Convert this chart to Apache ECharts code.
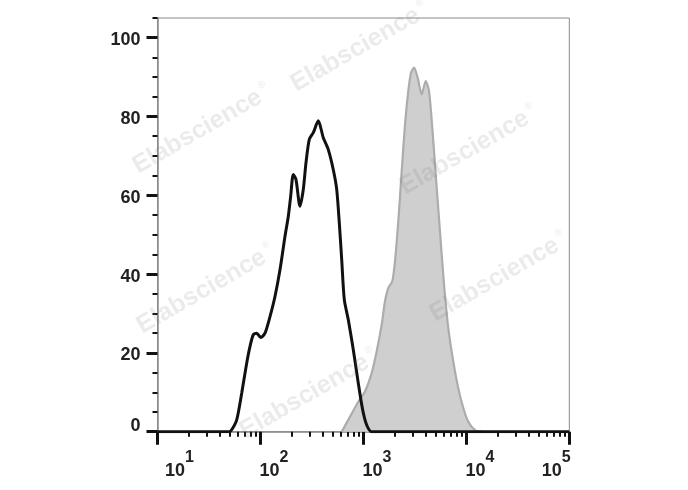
<!DOCTYPE html>
<html>
<head>
<meta charset="utf-8">
<script src="https://cdn.jsdelivr.net/npm/echarts@6/dist/echarts.min.js"></script>
<style>
html,body{margin:0;padding:0;background:#fff;}
#chart{width:688px;height:490px;}
</style>
</head>
<body>
<div id="chart"></div>
<script>
// Unstained / isotype control (black open histogram): [intensity, % of max]
var controlX = [10, 49.5, 52.6, 58.8, 65.8, 73.5, 79.1, 85.2, 91.9, 100.6, 110.7, 123.8, 138.4, 154.8, 173.2, 186.5, 196.7, 208.4, 221.4, 242.1, 260.8, 277, 298.2, 326.1, 364.7, 407.8, 456, 510, 550.5, 583.3, 615.5, 652.4, 713.4, 797.8, 892.2, 984.5, 1076.6, 1203.6, 100000];
var controlY = [0, 0, 0.5, 3, 9.8, 17.4, 21.6, 24.6, 25, 23.9, 25, 29.2, 34.3, 41.1, 49.6, 54.7, 59.8, 65.3, 64, 57.2, 61.5, 68.3, 74.2, 75.9, 78.9, 74.6, 71.6, 66.5, 61.5, 53, 43.7, 33.5, 28.4, 20.8, 12.3, 5.5, 1.7, 0, 0];
// Stained sample (grey filled histogram)
var stainedX = [615.5, 740.7, 892.2, 1036.4, 1203.6, 1346.4, 1505.9, 1621, 1745.6, 1909, 2027.7, 2182.7, 2355, 2536.4, 2730.5, 2900.6, 3100.7, 3369, 3683.6, 4028.5, 4337.4, 4669, 5038.5, 5546, 6106, 6677, 7469, 8353, 9342, 10447, 12134, 14090];
var stainedY = [0, 3.8, 7.6, 10.2, 14.9, 20.4, 27.2, 33.1, 36.5, 38.2, 43.3, 53.4, 66.1, 78, 86.5, 91.1, 92.4, 89.8, 85.6, 89, 86.5, 77.1, 65.3, 50.8, 36.5, 26.3, 17.8, 11, 6, 2.5, 0.4, 0];
// Axis ticks
var xMajorTicks = [10, 100, 1000, 10000, 100000];
var xExponents = ['1', '2', '3', '4', '5'];
var yMajorTicks = [0, 20, 40, 60, 80, 100];
var yLabels = ['0', '20', '40', '60', '80', '100'];
var watermark = 'Elabscience';

function pairs(xs, ys) { return xs.map(function (x, i) { return [x, ys[i]]; }); }
var xMinor = [];
for (var d = 10; d < 100000; d *= 10) { for (var k = 2; k <= 9; k++) xMinor.push(d * k); }
var yMinor = [];
for (var v = 5; v <= 105; v += 5) { if (v % 20 !== 0) yMinor.push(v); }

var chart = echarts.init(document.getElementById('chart'), null, {renderer: 'canvas'});

var wmColor = 'rgba(110,110,110,0.14)';
var wmPos = [[360, 47], [202, 129], [469, 150], [206, 289], [499, 277], [309, 394]];
var graphics = wmPos.map(function (p) {
  return {
    type: 'text', x: p[0], y: p[1], rotation: Math.PI / 6, z: 100, silent: true,
    style: {
      text: '{a|' + watermark + '}{r|®}',
      align: 'center', verticalAlign: 'middle',
      rich: {
        a: {fontFamily: 'Liberation Sans', fontWeight: 'bold', fontSize: 25, fill: wmColor},
        r: {fontFamily: 'Liberation Sans', fontSize: 10, verticalAlign: 'top', fill: wmColor, padding: [0, 0, 16, 3]}
      }
    }
  };
});

var labelFont = {fontFamily: 'Liberation Sans', fontWeight: 'bold', color: '#222'};

var option = {
  animation: false,
  backgroundColor: '#fff',
  grid: {left: 157.5, right: 118.7, top: 18, bottom: 58.3, show: true, borderColor: '#8a8a8a', borderWidth: 1, containLabel: false},
  xAxis: [{
    type: 'log', logBase: 10, min: 10, max: 100000, position: 'bottom',
    axisLine: {show: true, onZero: false, lineStyle: {color: '#8a8a8a', width: 1.5}},
    axisTick: {show: true, length: 13, lineStyle: {color: '#111', width: 3}, customValues: xMajorTicks},
    axisLabel: {
      show: true, margin: 18, customValues: xMajorTicks,
      formatter: function (val) {
        var i = xMajorTicks.indexOf(Math.round(val));
        if (i < 0) return '';
        var pre = i === 0 ? '{s44| }' : (i === 4 ? '' : '{s27| }');
        var post = i === 4 ? '{s26| }' : '';
        return pre + '{b|10}{e|' + xExponents[i] + '}' + post;
      },
      rich: {
        b: Object.assign({fontSize: 18, lineHeight: 30, verticalAlign: 'bottom'}, labelFont),
        e: Object.assign({fontSize: 16, lineHeight: 16, verticalAlign: 'top'}, labelFont),
        s44: {width: 44, fontSize: 10}, s27: {width: 27, fontSize: 10}, s26: {width: 26, fontSize: 10}
      }
    },
    splitLine: {show: false}
  }, {
    type: 'log', logBase: 10, min: 10, max: 100000, position: 'bottom',
    axisLine: {show: false},
    axisTick: {show: true, length: 5, lineStyle: {color: '#111', width: 2}, customValues: xMinor},
    axisLabel: {show: false},
    splitLine: {show: false}
  }],
  yAxis: [{
    type: 'value', min: 0, max: 105, interval: 20, position: 'left',
    axisLine: {show: true, onZero: false, lineStyle: {color: '#8a8a8a', width: 1.5}},
    axisTick: {show: true, length: 11, lineStyle: {color: '#111', width: 3}, customValues: yMajorTicks},
    axisLabel: {
      show: true, margin: 17, customValues: yMajorTicks,
      formatter: function (val) {
        var i = yMajorTicks.indexOf(Math.round(val));
        if (i < 0) return '';
        return (i === 0 ? '{z|' : '{n|') + yLabels[i] + '}';
      },
      rich: {
        n: Object.assign({fontSize: 18, padding: [5, 0, 0, 0]}, labelFont),
        z: Object.assign({fontSize: 18, padding: [0, 0, 12, 0]}, labelFont)
      }
    },
    splitLine: {show: false}
  }, {
    type: 'value', min: 0, max: 105, position: 'left',
    axisLine: {show: false},
    axisTick: {show: true, length: 5, lineStyle: {color: '#111', width: 2}, customValues: yMinor},
    axisLabel: {show: false},
    splitLine: {show: false}
  }],
  series: [{
    name: 'Stained', type: 'line', xAxisIndex: 0, yAxisIndex: 0,
    data: pairs(stainedX, stainedY), smooth: 0.25, symbol: 'none',
    lineStyle: {color: '#acacac', width: 2.2},
    areaStyle: {color: '#cfcfcf', opacity: 1},
    z: 2
  }, {
    name: 'Control', type: 'line', xAxisIndex: 0, yAxisIndex: 0,
    data: pairs(controlX, controlY), smooth: 0.25, symbol: 'none',
    lineStyle: {color: '#111', width: 3},
    z: 3
  }],
  graphic: graphics
};
chart.setOption(option);
</script>
</body>
</html>
